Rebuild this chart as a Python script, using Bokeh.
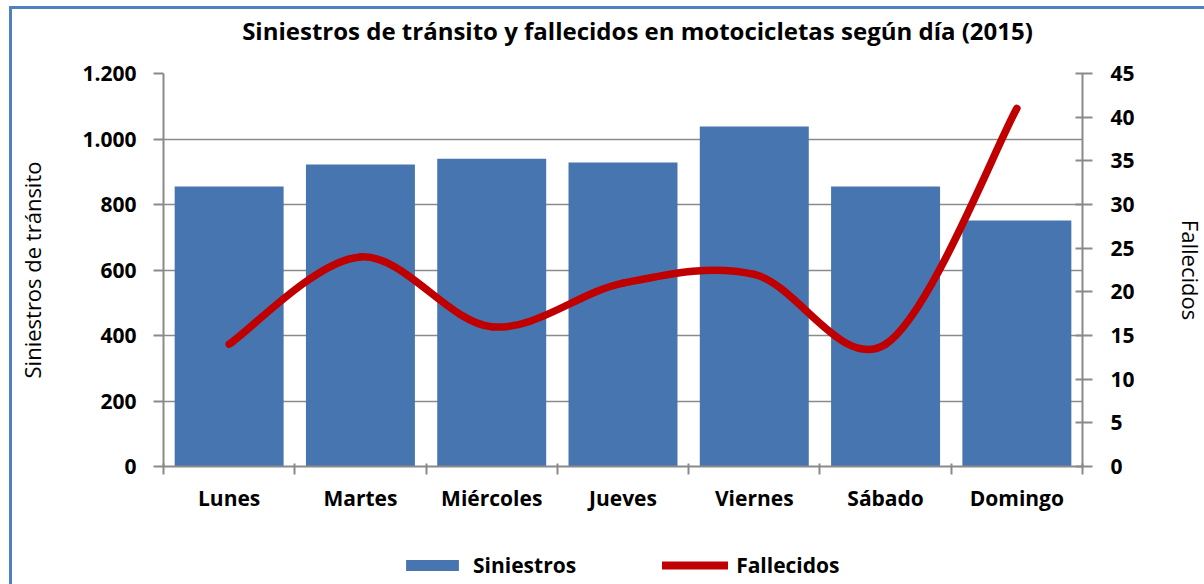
from bokeh.plotting import figure
from bokeh.models import Range1d, LinearAxis, FixedTicker, Legend, LegendItem, Label
from bokeh.layouts import column
from bokeh.embed import file_html
from bokeh.resources import INLINE

# ---- data ----
dias = ["Lunes", "Martes", "Miércoles", "Jueves", "Viernes", "Sábado", "Domingo"]
siniestros = [855, 922, 940, 928, 1038, 855, 751]
fallecidos = [14, 24, 16, 21, 22, 14, 41]
y_ticks = [0, 200, 400, 600, 800, 1000, 1200]
y_tick_labels = ["0", "200", "400", "600", "800", "1.000", "1.200"]
y2_ticks = [0, 5, 10, 15, 20, 25, 30, 35, 40, 45]
titulo = "Siniestros de tránsito y fallecidos en motocicletas según día (2015)"

FONT = "Open Sans"
BLUE = "#4675B0"
RED = "#C00000"
GRAY = "#8A8A8A"
FRAME_BLUE = "#4F81BD"
LEFT_BORDER = f"linear-gradient({FRAME_BLUE},{FRAME_BLUE}) 9px 0px / 3px 100% no-repeat, white"

n = len(dias)
xc = [i + 0.5 for i in range(n)]


def bezier_segments(ys):
    x0s, y0s, x1s, y1s, cx0, cy0, cx1, cy1 = [], [], [], [], [], [], [], []
    for i in range(n - 1):
        pi_ = (xc[i], ys[i])
        pn = (xc[i + 1], ys[i + 1])
        pp = (xc[i - 1], ys[i - 1]) if i > 0 else pi_
        pnn = (xc[i + 2], ys[i + 2]) if i + 2 < n else pn
        x0s.append(pi_[0]); y0s.append(pi_[1])
        x1s.append(pn[0]); y1s.append(pn[1])
        cx0.append(pi_[0] + (pn[0] - pp[0]) / 6.0)
        cy0.append(pi_[1] + (pn[1] - pp[1]) / 6.0)
        cx1.append(pn[0] - (pnn[0] - pi_[0]) / 6.0)
        cy1.append(pn[1] - (pnn[1] - pi_[1]) / 6.0)
    return dict(x0=x0s, y0=y0s, x1=x1s, y1=y1s, cx0=cx0, cy0=cy0, cx1=cx1, cy1=cy1)


# ---------------- title strip ----------------
pt = figure(width=1204, height=53, min_border=0, x_axis_location=None,
            y_axis_location=None, toolbar_location=None, output_backend="svg",
            x_range=Range1d(0, 1), y_range=Range1d(0, 1))
pt.outline_line_color = None
pt.background_fill_alpha = 0
pt.border_fill_alpha = 0
pt.grid.visible = False
pt.styles = {
    "background": (f"linear-gradient({FRAME_BLUE},{FRAME_BLUE}) 9px 6px / 3px 100% no-repeat, "
                   f"linear-gradient({FRAME_BLUE},{FRAME_BLUE}) 9px 6px / 100% 3px no-repeat, white")
}
# the column aligns this strip's frame with the chart frame (x from 163 to 1082)
pt.add_layout(Label(x=474, y=23, x_units="screen", y_units="screen", text=titulo,
                    text_align="center", text_baseline="middle", text_font=FONT,
                    text_font_size="24px", text_font_style="bold", text_color="black"))

# ---------------- main chart ----------------
p = figure(frame_width=919, frame_height=393, output_backend="svg",
           toolbar_location=None,
           x_range=Range1d(0, n), y_range=Range1d(0, 1200),
           min_border_left=163, min_border_right=122, min_border_top=20,
           min_border_bottom=74)
p.outline_line_color = None
p.background_fill_color = "white"
p.border_fill_alpha = 0
p.styles = {"background": LEFT_BORDER}

p.extra_y_ranges = {"f": Range1d(0, 45)}

p.xgrid.visible = False
p.ygrid.ticker = FixedTicker(ticks=y_ticks)
p.ygrid.grid_line_color = GRAY
p.ygrid.grid_line_width = 1.5

bars = p.vbar(x=xc, top=siniestros, width=0.83, bottom=0, fill_color=BLUE,
              line_color=None)
curve = p.bezier(**bezier_segments(fallecidos), line_color=RED, line_width=7.5,
                 line_cap="round", y_range_name="f")

# x axis
xa = p.xaxis[0]
xa.ticker = FixedTicker(ticks=xc, minor_ticks=list(range(n + 1)))
xa.major_label_overrides = {x: d for x, d in zip(xc, dias)}
xa.major_tick_line_color = None
xa.major_tick_out = 0
xa.major_tick_in = 0
xa.minor_tick_line_color = GRAY
xa.minor_tick_line_width = 2
xa.minor_tick_in = 3
xa.minor_tick_out = 8
xa.axis_line_color = GRAY
xa.axis_line_width = 2
xa.major_label_standoff = 9
xa.major_label_text_font = FONT
xa.major_label_text_font_style = "bold"
xa.major_label_text_font_size = "21px"
xa.major_label_text_color = "black"

# left axis
ya = p.yaxis[0]
ya.ticker = FixedTicker(ticks=y_ticks)
ya.major_label_overrides = {t: l for t, l in zip(y_ticks, y_tick_labels)}
ya.minor_tick_line_color = None
ya.major_tick_line_color = GRAY
ya.major_tick_line_width = 2
ya.major_tick_in = 0
ya.major_tick_out = 10
ya.axis_line_color = GRAY
ya.axis_line_width = 2
ya.major_label_standoff = 17
ya.major_label_text_font = FONT
ya.major_label_text_font_style = "bold"
ya.major_label_text_font_size = "21px"
ya.major_label_text_color = "black"
ya.axis_label = "Siniestros de tránsito"
ya.axis_label_text_font = FONT
ya.axis_label_text_font_style = "normal"
ya.axis_label_text_font_size = "22px"
ya.axis_label_text_color = "black"
ya.axis_label_standoff = 32

# right axis
ra = LinearAxis(y_range_name="f", ticker=FixedTicker(ticks=y2_ticks))
ra.minor_tick_line_color = None
ra.major_tick_line_color = GRAY
ra.major_tick_line_width = 2
ra.major_tick_in = 7
ra.major_tick_out = 10
ra.axis_line_color = GRAY
ra.axis_line_width = 2
ra.major_label_standoff = 18
ra.major_label_text_font = FONT
ra.major_label_text_font_style = "bold"
ra.major_label_text_font_size = "21px"
ra.major_label_text_color = "black"
ra.axis_label = "Fallecidos"
ra.axis_label_text_font = FONT
ra.axis_label_text_font_style = "normal"
ra.axis_label_text_font_size = "22px"
ra.axis_label_text_color = "black"
ra.axis_label_standoff = 38
p.add_layout(ra, "right")

# ---------------- legend strip ----------------
pl = figure(width=1204, height=44, min_border=0, x_axis_location=None,
            y_axis_location=None, toolbar_location=None, output_backend="svg",
            x_range=Range1d(0, n), y_range=Range1d(2000, 2100))
pl.outline_line_color = None
pl.background_fill_alpha = 0
pl.border_fill_alpha = 0
pl.grid.visible = False
pl.styles = {"background": LEFT_BORDER}
# same series, drawn outside this strip's visible range; used only for the legend keys
lbars = pl.vbar(x=xc, top=siniestros, width=0.83, bottom=0, fill_color=BLUE,
                line_color=None)
lcurve = pl.bezier(**bezier_segments(fallecidos), line_color=RED, line_width=8,
                   line_cap="round")

legend = Legend(items=[LegendItem(label="Siniestros", renderers=[lbars]),
                       LegendItem(label="Fallecidos", renderers=[lcurve])],
                orientation="horizontal", location=(236, 5))
legend.glyph_width = 66
legend.glyph_height = 14
legend.spacing = 86
legend.label_standoff = 8
legend.margin = 0
legend.padding = 5
legend.border_line_color = None
legend.background_fill_alpha = 0
legend.label_text_font = FONT
legend.label_text_font_style = "bold"
legend.label_text_font_size = "21px"
legend.label_text_color = "black"
pl.add_layout(legend, "center")

layout = column(pt, p, pl, spacing=0)
open("out.html", "w").write(file_html(layout, INLINE))
